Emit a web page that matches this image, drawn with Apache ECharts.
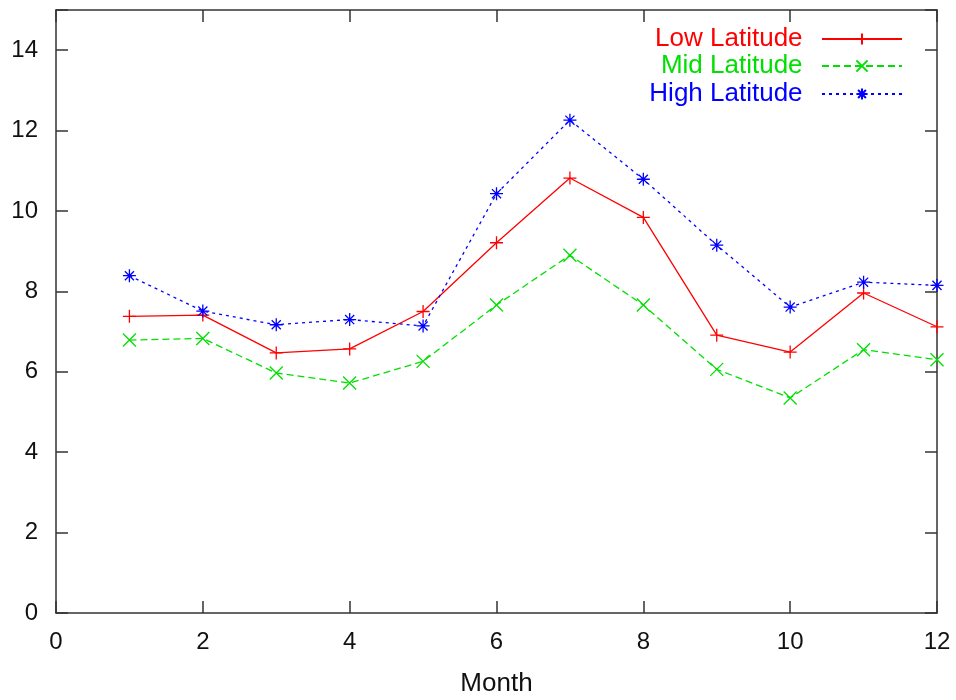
<!DOCTYPE html>
<html>
<head>
<meta charset="utf-8">
<script src="https://cdn.jsdelivr.net/npm/echarts@6/dist/echarts.min.js"></script>
<style>html,body{margin:0;padding:0;background:#fff}#c{width:956px;height:700px}</style>
</head>
<body>
<div id="c"></div>
<script>
const months = [1, 2, 3, 4, 5, 6, 7, 8, 9, 10, 11, 12];
const lowLatitude  = [7.38, 7.41, 6.47, 6.57, 7.50, 9.21, 10.82, 9.84, 6.91, 6.49, 7.96, 7.12];
const midLatitude  = [6.79, 6.83, 5.97, 5.72, 6.26, 7.66, 8.90, 7.66, 6.06, 5.35, 6.55, 6.30];
const highLatitude = [8.39, 7.51, 7.17, 7.30, 7.14, 10.43, 12.26, 10.79, 9.15, 7.61, 8.23, 8.15];
const seriesNames = ['Low Latitude', 'Mid Latitude', 'High Latitude'];
const xTicks = [0, 2, 4, 6, 8, 10, 12];
const yTicks = [0, 2, 4, 6, 8, 10, 12, 14];
const xLabel = 'Month';

const FONT = 'Liberation Sans, Arial, sans-serif';
const AX = '#333';
const plus = 'path://M0,5L10,5M5,0L5,10';
const cross = 'path://M0,0L10,10M0,10L10,0';
const star = 'path://M0,5L10,5M5,0L5,10M1.5,1.5L8.5,8.5M1.5,8.5L8.5,1.5';

function pts(arr) { return months.map((m, i) => [m, arr[i]]); }
function mkSeries(name, data, color, dash, sym) {
  return {
    name, type: 'line', data: pts(data), symbol: sym, symbolSize: 13,
    lineStyle: { color, width: 1.3, type: dash },
    itemStyle: { color: 'rgba(0,0,0,0)', borderColor: color, borderWidth: 1.3 },
    emphasis: { disabled: true }, animation: false
  };
}
const colors = ['#ff0000', '#00e000', '#0000ff'];
const chart = echarts.init(document.getElementById('c'), null, { renderer: 'canvas' });
const tickLab = v => yTicks.includes(v) ? String(v) : '';
function legendFor(i, top) {
  return {
    data: [seriesNames[i]], right: 53, top, padding: 0, align: 'right',
    itemWidth: 80, itemHeight: 14,
    formatter: n => n + '  ',
    textStyle: { color: colors[i], fontSize: 26, fontFamily: FONT }
  };
}
const axLine = { show: true, onZero: false, lineStyle: { color: AX, width: 1.5 } };
const axTick = { show: true, inside: true, length: 12, lineStyle: { color: AX, width: 1.5 } };
chart.setOption({
  animation: false,
  grid: { left: 56, right: 19, top: 10, bottom: 87, containLabel: false, outerBoundsMode: 'none' },
  legend: [legendFor(0, 26), legendFor(1, 53), legendFor(2, 81)],
  xAxis: [
    { type: 'value', min: 0, max: 12, interval: 2, position: 'bottom',
      name: xLabel, nameLocation: 'middle', nameGap: 58,
      nameTextStyle: { fontSize: 26, fontFamily: FONT, color: '#111' },
      axisLine: axLine, axisTick: axTick,
      axisLabel: { fontSize: 24, fontFamily: FONT, color: '#111', margin: 17, formatter: v => xTicks.includes(v) ? String(v) : '' },
      splitLine: { show: false } },
    { type: 'value', min: 0, max: 12, interval: 2, position: 'top',
      axisLine: axLine, axisTick: axTick,
      axisLabel: { show: false }, splitLine: { show: false } }
  ],
  yAxis: [
    { type: 'value', min: 0, max: 15, interval: 2, position: 'left',
      axisLine: axLine, axisTick: axTick,
      axisLabel: { fontSize: 24, fontFamily: FONT, color: '#111', margin: 18, formatter: tickLab },
      splitLine: { show: false } },
    { type: 'value', min: 0, max: 15, interval: 2, position: 'right',
      axisLine: axLine, axisTick: axTick,
      axisLabel: { show: false }, splitLine: { show: false } }
  ],
  series: [
    mkSeries(seriesNames[0], lowLatitude, colors[0], 'solid', plus),
    mkSeries(seriesNames[1], midLatitude, colors[1], [7, 4], cross),
    mkSeries(seriesNames[2], highLatitude, colors[2], [3, 4], star)
  ]
});
</script>
</body>
</html>
